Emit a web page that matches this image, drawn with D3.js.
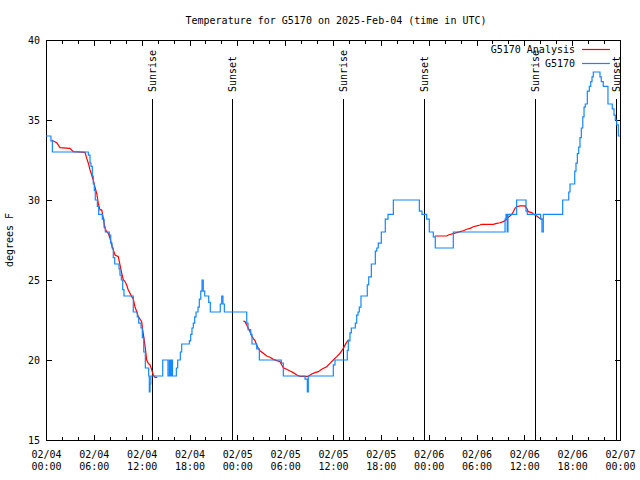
<!DOCTYPE html>
<html><head><meta charset="utf-8">
<script src="https://cdn.jsdelivr.net/npm/d3@7"></script>
<style>
body{margin:0;background:#fff;}
text{font-family:"DejaVu Sans Mono",monospace;font-size:10px;fill:#000;}
</style></head>
<body><svg id="c" width="640" height="480"></svg>
<script>
// ---- data (hours since 2025-02-04 00:00 UTC) ----
const titleText = "Temperature for G5170 on 2025-Feb-04 (time in UTC)";
const yLabel = "degrees F";
const xTickHours = [0,6,12,18,24,30,36,42,48,54,60,66,72];
const xTickDates = ["02/04","02/04","02/04","02/04","02/05","02/05","02/05","02/05","02/06","02/06","02/06","02/06","02/07"];
const xTickTimes = ["00:00","06:00","12:00","18:00","00:00","06:00","12:00","18:00","00:00","06:00","12:00","18:00","00:00"];
const yTicks = [15,20,25,30,35,40];

const sunHours = [13.33, 23.37, 37.29, 47.45, 61.38, 71.54];
const sunLabels = ["Sunrise","Sunset","Sunrise","Sunset","Sunrise","Sunset"];

const obsTime = [0.00,0.62,0.80,5.31,5.52,5.64,5.81,5.93,6.06,6.18,6.44,6.61,7.06,7.28,7.44,7.94,8.12,8.28,8.44,8.62,9.16,9.28,9.45,9.62,9.78,10.95,11.45,11.63,11.92,12.08,12.26,12.46,12.88,12.96,13.05,13.15,14.64,15.30,15.47,15.59,15.74,15.87,16.35,16.52,16.85,17.02,17.98,18.15,18.31,18.48,18.65,18.82,19.07,19.23,19.41,19.57,19.73,19.91,20.41,20.61,21.86,22.04,22.20,22.37,25.18,25.34,25.68,25.84,26.43,26.76,29.52,29.77,32.49,32.78,32.90,36.04,36.25,37.79,37.92,38.13,38.30,38.80,38.97,39.14,39.30,39.51,40.30,40.48,40.81,41.31,41.49,41.68,42.06,42.56,42.90,43.57,46.83,47.16,47.75,48.08,48.58,48.83,51.09,57.58,57.70,57.85,57.95,59.04,60.21,60.37,62.05,62.21,62.38,64.81,65.57,65.73,66.32,66.48,66.65,66.82,66.98,67.15,67.33,67.49,67.65,67.90,68.15,68.33,68.49,68.65,69.49,69.65,69.90,70.49,71.03,71.25,71.41,71.59,71.79,72.00];
const obsTemp = [34.0,33.7,33.0,32.8,32.3,32.1,31.5,31.0,30.6,30.0,29.6,29.1,28.8,28.3,28.0,27.8,27.3,27.0,26.4,26.0,25.7,25.3,25.0,24.4,24.0,23.0,22.7,22.3,22.0,21.4,20.5,19.5,19.0,18.0,18.5,19.0,20.0,19.0,20.0,19.0,20.0,19.0,19.5,20.0,20.5,21.0,21.2,21.6,22.0,22.3,22.7,23.0,23.3,23.8,24.3,25.0,24.3,24.0,23.6,23.0,23.5,24.0,23.5,23.0,22.3,21.9,21.6,21.0,20.7,20.0,19.8,19.0,18.8,18.0,19.0,19.7,20.0,20.6,21.2,21.7,22.0,22.3,22.8,23.0,23.3,24.0,24.7,25.2,26.0,26.8,27.0,27.3,28.0,28.8,29.1,30.0,29.3,29.1,28.8,28.0,27.7,27.0,28.0,28.8,29.1,28.0,29.1,30.0,29.3,29.1,28.8,28.0,29.1,30.0,30.5,31.0,31.8,32.3,32.9,33.3,33.9,34.5,35.2,35.8,36.0,36.8,37.1,37.4,37.7,38.0,37.7,37.4,37.1,36.0,35.7,35.3,35.0,34.7,34.0,34.0];

const anaTime1 = [0.72,0.92,1.34,1.76,3.01,3.42,4.89,5.11,5.31,5.52,5.73,5.93,6.15,6.36,6.56,6.77,6.99,7.19,7.40,7.61,7.81,8.03,8.24,8.44,8.66,9.07,9.28,9.50,9.70,9.91,10.12,10.32,10.54,10.75,10.95,11.16,11.38,11.58,11.79,12.00,12.13,12.29,12.46,12.63,12.83,13.05,13.26,13.46,13.67,13.96];
const anaTemp1 = [33.75,33.69,33.58,33.27,33.23,33.02,32.98,32.6,32.3,31.88,31.56,31.25,30.79,30.42,29.79,29.38,29.38,28.85,28.23,28.02,27.92,27.6,27.19,26.88,26.56,26.46,25.94,25.42,25.0,24.9,24.69,24.38,24.17,23.96,23.81,23.33,23.02,22.71,22.56,22.4,21.88,21.35,20.73,20.0,19.79,19.69,19.38,19.06,18.92,18.92];
const anaTime2 = [24.75,24.96,25.18,25.38,25.59,25.80,26.00,26.22,26.43,26.63,26.84,27.26,27.68,28.10,28.51,28.94,29.35,29.57,29.77,30.19,30.61,31.02,31.45,31.86,32.28,32.90,33.33,33.74,34.16,34.58,35.21,35.62,36.04,36.47,36.88,37.29,37.63,37.92,38.05];
const anaTemp2 = [22.44,22.4,22.19,21.98,21.77,21.5,21.35,21.21,20.94,20.73,20.58,20.42,20.25,20.17,20.04,19.96,19.9,19.69,19.52,19.42,19.31,19.21,19.06,18.98,18.98,18.98,19.13,19.21,19.27,19.42,19.58,19.79,20.0,20.21,20.42,20.73,21.04,21.25,21.25];
const anaTime3 = [48.79,50.26,50.46,51.52,51.93,52.35,52.77,53.19,53.60,54.03,54.44,54.65,56.11,56.54,56.95,57.36,57.70,57.99,58.20,58.42,58.62,58.83,59.04,59.46,60.09,60.30,60.50,60.93,61.13,61.55,61.97,62.18,62.31];
const anaTemp3 = [27.75,27.75,27.81,27.96,28.02,28.08,28.17,28.23,28.33,28.38,28.44,28.48,28.48,28.54,28.58,28.65,28.75,28.92,29.0,29.1,29.27,29.48,29.58,29.63,29.63,29.48,29.27,29.21,29.13,29.0,28.85,28.79,28.8];

const seriesNames = ["G5170 Analysis","G5170"];
const seriesColors = ["#ff0000","#1388ff"];

// ---- drawing ----
const L=46, R=620, T=40, B=440;
const svg = d3.select("#c");
const x = d3.scaleLinear().domain([0,72]).range([L,R]);
const y = d3.scaleLinear().domain([15,40]).range([B,T]);
const cx = v => Math.round(x(v))+0.5;

svg.append("text").attr("x",336).attr("y",24).attr("text-anchor","middle").text(titleText);

// frame
svg.append("rect").attr("x",L+0.5).attr("y",T+0.5).attr("width",R-L).attr("height",B-T)
  .attr("fill","none").attr("stroke","#000").attr("stroke-width",1);

const minorHours = d3.range(0,73,2).filter(h=>h%6!==0);
const gx = svg.append("g").attr("stroke","#000").attr("stroke-width",1);
xTickHours.forEach(h=>{
  gx.append("line").attr("x1",cx(h)).attr("x2",cx(h)).attr("y1",B+0.5).attr("y2",B-5);
  gx.append("line").attr("x1",cx(h)).attr("x2",cx(h)).attr("y1",T+0.5).attr("y2",T+6);
});
minorHours.forEach(h=>{
  gx.append("line").attr("x1",cx(h)).attr("x2",cx(h)).attr("y1",B+0.5).attr("y2",B-3);
  gx.append("line").attr("x1",cx(h)).attr("x2",cx(h)).attr("y1",T+0.5).attr("y2",T+4);
});
yTicks.forEach(v=>{
  const yy = Math.round(y(v))+0.5;
  gx.append("line").attr("x1",L+0.5).attr("x2",L+6).attr("y1",yy).attr("y2",yy);
  gx.append("line").attr("x1",R+0.5).attr("x2",R-5).attr("y1",yy).attr("y2",yy);
});

// axis labels via d3 axis for text placement
const xAxis = d3.axisBottom(x).tickValues(xTickHours).tickSize(0).tickPadding(0).tickFormat("");
const gxa = svg.append("g").attr("transform",`translate(0,${B})`).call(xAxis);
gxa.select(".domain").remove();
gxa.selectAll(".tick").each(function(d,i){
  const t = d3.select(this).append("text").attr("text-anchor","middle").attr("fill","#000");
  t.append("tspan").attr("x",0).attr("y",18).text(xTickDates[i]);
  t.append("tspan").attr("x",0).attr("y",30).text(xTickTimes[i]);
});
const yAxis = d3.axisLeft(y).tickValues(yTicks).tickSize(0).tickPadding(6).tickFormat(d3.format("d"));
const gya = svg.append("g").attr("transform",`translate(${L},0)`).call(yAxis);
gya.select(".domain").remove();
gya.selectAll("text").attr("font-family","DejaVu Sans Mono").attr("font-size",10).attr("fill","#000");

svg.append("text").attr("transform",`translate(13,240) rotate(-90)`).attr("text-anchor","middle").text(yLabel);

// sun lines
sunHours.forEach((h,i)=>{
  svg.append("line").attr("x1",cx(h)).attr("x2",cx(h)).attr("y1",99).attr("y2",B)
    .attr("stroke","#000").attr("stroke-width",1);
  svg.append("text").attr("transform",`translate(${cx(h)+3.5},92) rotate(-90)`)
    .attr("text-anchor","start").text(sunLabels[i]);
});

// series
svg.append("clipPath").attr("id","pc").append("rect").attr("x",L).attr("y",T).attr("width",R-L+1).attr("height",B-T);
const obs = obsTime.map((t,i)=>[t,obsTemp[i]]);
const stepLine = d3.line().x(d=>x(d[0])).y(d=>y(d[1])).curve(d3.curveStepAfter);
const lin = d3.line().x(d=>x(d[0])).y(d=>y(d[1]));
const segs = [[anaTime1,anaTemp1],[anaTime2,anaTemp2],[anaTime3,anaTemp3]].map(([a,b])=>a.map((t,i)=>[t,b[i]]));
segs.forEach(s=>{
  svg.append("path").attr("d",lin(s)).attr("fill","none").attr("stroke",seriesColors[0]).attr("stroke-width",1.2);
});
svg.append("path").attr("d",stepLine(obs)).attr("fill","none").attr("stroke",seriesColors[1]).attr("stroke-width",1.2)
  .attr("clip-path","url(#pc)");

// legend
seriesNames.forEach((n,i)=>{
  const yy = 49 + i*14;
  svg.append("text").attr("x",575).attr("y",yy+3.5).attr("text-anchor","end").text(n);
  svg.append("line").attr("x1",582).attr("x2",610).attr("y1",yy+0.5).attr("y2",yy+0.5)
    .attr("stroke",seriesColors[i]).attr("stroke-width",1.2);
});
</script></body></html>
